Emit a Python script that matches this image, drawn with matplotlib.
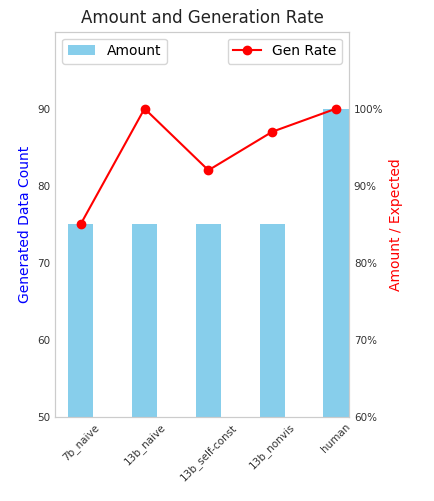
import matplotlib
matplotlib.use("Agg")
import matplotlib.pyplot as plt
import matplotlib.ticker as mticker
import numpy as np

categories = ["7b_naive", "13b_naive", "13b_self-const", "13b_nonvis", "human"]
amounts = [75, 75, 75, 75, 90]
gen_rate = [0.85, 1.00, 0.92, 0.97, 1.00]

fig = plt.figure(figsize=(4.34, 5.01), dpi=100)
ax = fig.add_axes([0.127, 0.168, 0.677, 0.769])
x = np.arange(len(categories))
ax.bar(x, amounts, width=0.4, color="skyblue", label="Amount")
ax.set_xlim(-0.4, 4.2)
ax.set_ylim(50, 100)
ax.set_yticks([50, 60, 70, 80, 90])
ax.set_ylabel("Generated Data Count", color="blue", fontsize=10)
ax.set_xticks(x)
ax.set_xticklabels(categories, rotation=45, fontsize=7.5, color="#333333")
ax.tick_params(axis="y", labelsize=7.5, length=0, labelcolor="#333333")
ax.tick_params(axis="x", length=0)
ax.set_title("Amount and Generation Rate", fontsize=12, color="#222222")

ax2 = ax.twinx()
ax2.plot(x, gen_rate, color="red", marker="o", label="Gen Rate")
ax2.set_ylim(0.6, 1.1)
ax2.set_yticks([0.6, 0.7, 0.8, 0.9, 1.0])
ax2.yaxis.set_major_formatter(mticker.PercentFormatter(1.0, decimals=0))
ax2.set_ylabel("Amount / Expected", color="red", fontsize=10)
ax2.tick_params(axis="y", labelsize=7.5, length=0, labelcolor="#333333")

for a in (ax, ax2):
    for s in a.spines.values():
        s.set_color("#cccccc")

ax.legend(loc="upper left", fontsize=10)
ax2.legend(loc="upper right", fontsize=10)

fig.savefig("out.png", dpi=100)
